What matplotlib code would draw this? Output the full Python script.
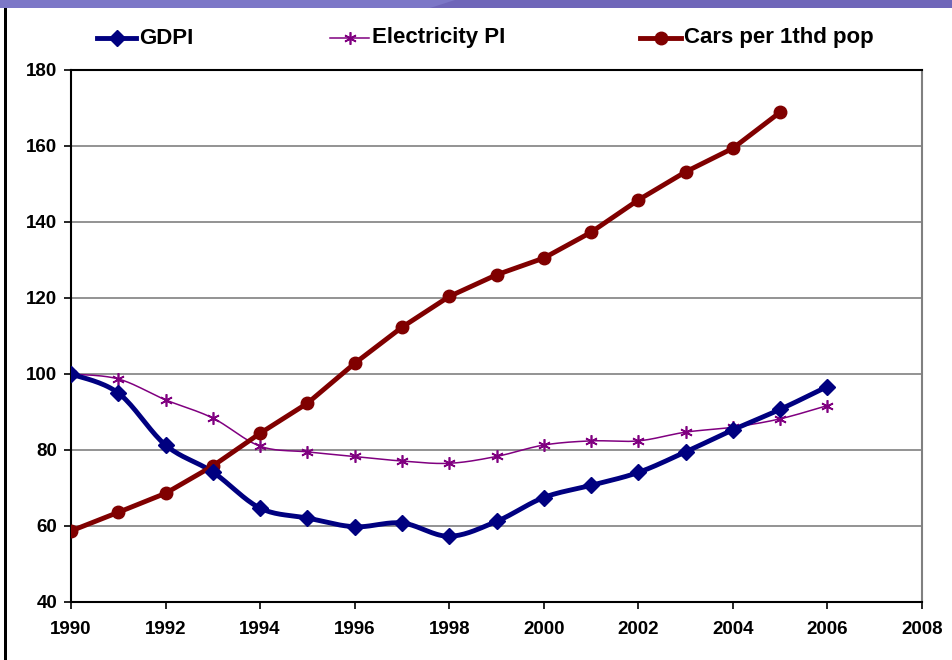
import numpy as np
import matplotlib
matplotlib.use("Agg")
import matplotlib.pyplot as plt
from matplotlib.patches import Rectangle, Polygon
from matplotlib.lines import Line2D

plt.rcParams['font.family'] = ['Liberation Sans', 'DejaVu Sans']
plt.rcParams['font.weight'] = 'bold'

years = list(range(1990, 2007))
gdpi = [100, 95.0, 81.3, 74.2, 64.7, 62.1, 59.8, 60.8, 57.3, 61.2, 67.5,
        70.7, 74.1, 79.5, 85.3, 90.7, 96.7]
electricity = [100, 98.7, 93.2, 88.4, 81.0, 79.5, 78.3, 77.1, 76.5, 78.3, 81.3,
               82.4, 82.4, 84.7, 86.0, 88.2, 91.7]
car_years = list(range(1990, 2006))
cars = [58.7, 63.6, 68.6, 75.8, 84.4, 92.3, 102.8, 112.3, 120.4, 126.1, 130.5,
        137.3, 145.8, 153.2, 159.4, 168.9]

series_names = ['GDPI', 'Electricity PI', 'Cars per 1thd pop']


def smooth(xs, ys, n=20):
    # Catmull-Rom curve through the points (Excel-style smoothed line)
    x = np.asarray(xs, float)
    y = np.asarray(ys, float)
    px = np.concatenate([[x[0]], x, [x[-1]]])
    py = np.concatenate([[y[0]], y, [y[-1]]])
    out_x, out_y = [], []
    t = np.linspace(0, 1, n)
    for i in range(1, len(px) - 2):
        p0, p1, p2, p3 = (np.array([px[j], py[j]]) for j in range(i - 1, i + 3))
        c1 = p1 + (p2 - p0) / 6
        c2 = p2 - (p3 - p1) / 6
        b = ((1 - t) ** 3)[:, None] * p1 + (3 * (1 - t) ** 2 * t)[:, None] * c1 \
            + (3 * (1 - t) * t ** 2)[:, None] * c2 + (t ** 3)[:, None] * p2
        out_x.extend(b[:, 0])
        out_y.extend(b[:, 1])
    return out_x, out_y


W, H = 952, 660
fig = plt.figure(figsize=(W / 100, H / 100), dpi=100)

# header band and left rule
fig.patches.append(Rectangle((0, 1 - 8 / H), 1, 8 / H, transform=fig.transFigure,
                             facecolor='#6f66b9', edgecolor='none'))
fig.patches.append(Polygon([(0, 1), (455 / W, 1), (430 / W, 1 - 8 / H), (0, 1 - 8 / H)],
                           closed=True, transform=fig.transFigure,
                           facecolor='#7c77c7', edgecolor='none'))
fig.patches.append(Rectangle((4 / W, 0), 3 / W, 1 - 8 / H, transform=fig.transFigure,
                             facecolor='black', edgecolor='none'))

ax = fig.add_axes([71 / W, 1 - 602 / H, 851 / W, 532 / H])

gdpi_style = dict(color='#000080', lw=3.5, marker='D', ms=8)
elec_style = dict(color='#800080', lw=1.1, marker=(6, 2, 0), ms=9, mew=1.2)
cars_style = dict(color='#800000', lw=3.5, marker='o', ms=9)

gx, gy = smooth(years, gdpi)
ax.plot(gx, gy, color='#000080', lw=3.5, solid_capstyle='round', zorder=4)
ax.plot(years, gdpi, ls='none', marker='D', ms=8, color='#000080', zorder=5)

ex, ey = smooth(years, electricity)
ax.plot(ex, ey, color='#800080', lw=1.1, zorder=3)
ax.plot(years, electricity, ls='none', marker=(6, 2, 0), ms=9, mew=1.2,
        color='#800080', zorder=3)

ax.plot(car_years, cars, zorder=4, **cars_style)

ax.set_xlim(1990, 2008)
ax.set_ylim(40, 180)
ax.set_xticks(range(1990, 2009, 2))
ax.set_yticks(range(40, 181, 20))
ax.grid(axis='y', color='#808080', lw=1.2)
ax.set_axisbelow(True)
for side in ['left', 'bottom', 'top']:
    ax.spines[side].set_color('black')
    ax.spines[side].set_linewidth(1.5)
ax.spines['right'].set_color('#808080')
ax.spines['right'].set_linewidth(1.5)
ax.tick_params(axis='both', direction='out', length=5, width=1.2, labelsize=13.5)
ax.tick_params(axis='x', pad=9)
ax.tick_params(axis='y', pad=5)
for lab in ax.get_xticklabels() + ax.get_yticklabels():
    lab.set_fontweight('bold')

# legend row along the top: (line start px, line end px, text start px)
legend_pos = [(97, 136, 139), (330, 369, 372), (640, 681, 684)]
legend_y = 1 - 38 / H
for (x0, x1, xt), name, style in zip(legend_pos, series_names,
                                      [gdpi_style, elec_style, cars_style]):
    st = dict(style)
    mk = dict(marker=st.pop('marker'), ms=st.pop('ms'), mew=st.pop('mew', 1.0))
    fig.add_artist(Line2D([x0 / W, x1 / W], [legend_y, legend_y],
                          transform=fig.transFigure, **st))
    fig.add_artist(Line2D([(x0 + x1) / 2 / W], [legend_y], transform=fig.transFigure,
                          color=st['color'], ls='none', **mk))
    fig.text(xt / W, legend_y, name, ha='left', va='center', fontsize=16,
             fontweight='bold')

fig.savefig('out.png', dpi=100)
